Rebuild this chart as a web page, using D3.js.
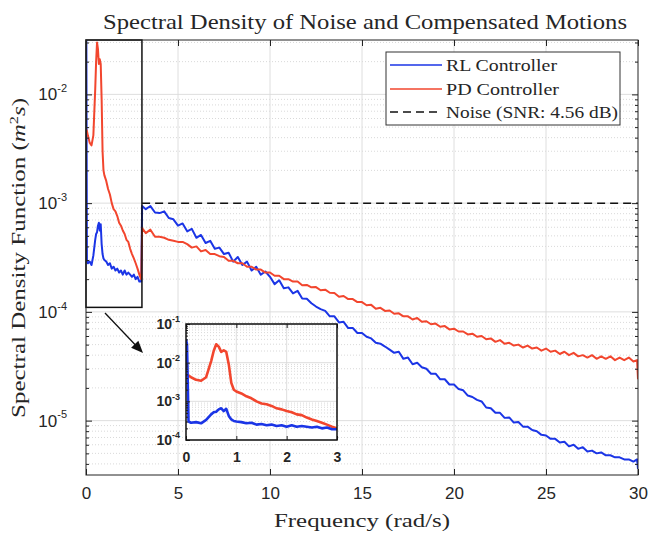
<!DOCTYPE html>
<html lang="en">
<head>
<meta charset="UTF-8">
<title>Spectral Density</title>
<script src="https://cdn.jsdelivr.net/npm/d3@7"></script>
<style>
    body { margin: 0; background: #fff; }
    svg text { font-family: "Liberation Serif", "Times New Roman", serif; fill: #262626; }
    .ax text { font-family: "Liberation Sans", Arial, sans-serif; }
</style>
</head>
<body>
<svg id="chart" width="652" height="535"></svg>
<script>
    // ---- data ----
    var freqLow = [0, 0.02, 0.05, 0.1, 0.2, 0.3, 0.4, 0.5, 0.55, 0.6, 0.65, 0.7, 0.75, 0.8, 0.85, 0.9, 0.95, 1.0,
        1.1, 1.2, 1.3, 1.4, 1.5, 1.6, 1.7, 1.8, 1.9, 2.0, 2.1, 2.2, 2.3, 2.4, 2.5, 2.6, 2.7, 2.8, 2.9, 3.0];
    var rlLow = [4.0e-2, 3.0e-2, 3.0e-4, 2.8e-4, 2.9e-4, 2.7e-4, 3.3e-4, 4.6e-4, 5.2e-4, 5.4e-4, 6.2e-4, 6.6e-4, 5.6e-4,
        6.4e-4, 4.2e-4, 3.4e-4, 3.1e-4, 3.0e-4, 2.9e-4, 2.7e-4, 2.8e-4, 2.5e-4, 2.6e-4, 2.4e-4, 2.5e-4, 2.3e-4,
        2.4e-4, 2.2e-4, 2.4e-4, 2.2e-4, 2.3e-4, 2.2e-4, 2.1e-4, 2.2e-4, 2.0e-4, 2.1e-4, 1.9e-4, 1.9e-4];
    var pdLow = [4.8e-3, 4.7e-3, 4.6e-3, 4.2e-3, 3.6e-3, 3.4e-3, 4.2e-3, 1.1e-2, 2.0e-2, 3.0e-2, 2.6e-2, 1.9e-2, 2.1e-2,
        1.9e-2, 9.0e-3, 3.0e-3, 2.0e-3, 1.8e-3, 1.6e-3, 1.35e-3, 1.2e-3, 1.0e-3, 8.8e-4, 8.4e-4, 7.6e-4, 6.6e-4,
        6.2e-4, 5.6e-4, 5.2e-4, 4.6e-4, 4.4e-4, 3.8e-4, 3.4e-4, 3.1e-4, 2.8e-4, 2.5e-4, 2.2e-4, 2.0e-4];

    var freqHigh = [3.05, 3.25, 3.5, 3.75, 4, 4.25, 4.5, 4.75, 5, 5.25, 5.5, 5.75, 6, 6.25, 6.5, 6.75,
        7, 7.25, 7.5, 7.75, 8, 8.25, 8.5, 8.75, 9, 9.25, 9.5, 9.75, 10, 10.25, 10.5, 10.75,
        11, 11.25, 11.5, 11.75, 12, 12.25, 12.5, 12.75, 13, 13.25, 13.5, 13.75, 14, 14.25, 14.5, 14.75,
        15, 15.25, 15.5, 15.75, 16, 16.25, 16.5, 16.75, 17, 17.25, 17.5, 17.75, 18, 18.25, 18.5, 18.75,
        19, 19.25, 19.5, 19.75, 20, 20.25, 20.5, 20.75, 21, 21.25, 21.5, 21.75, 22, 22.25, 22.5, 22.75,
        23, 23.25, 23.5, 23.75, 24, 24.25, 24.5, 24.75, 25, 25.25, 25.5, 25.75, 26, 26.25, 26.5, 26.75,
        27, 27.25, 27.5, 27.75, 28, 28.25, 28.5, 28.75, 29, 29.25, 29.5, 29.75, 29.95, 30];
    var rlHigh = [9.4e-4, 8.8e-4, 9.4e-4, 8.2e-4,
        8.1e-4, 8.4e-4, 7.3e-4, 7.1e-4,
        6.2e-4, 6.5e-4, 5.5e-4, 5.8e-4,
        4.8e-4, 5.1e-4, 4.3e-4, 4.5e-4,
        3.8e-4, 3.9e-4, 3.4e-4, 3.5e-4,
        2.9e-4, 3.2e-4, 2.7e-4, 2.9e-4,
        2.4e-4, 2.6e-4, 2.2e-4, 2.35e-4,
        2.1e-4, 1.8e-4, 1.95e-4, 1.65e-4,
        1.68e-4, 1.48e-4, 1.56e-4, 1.33e-4,
        1.32e-4, 1.2e-4, 1.12e-4, 1.06e-4,
        1.02e-4, 9.1e-5, 9.1e-5, 8.0e-5,
        8.1e-5, 7.1e-5, 7.1e-5, 6.4e-5,
        6.4e-5, 5.9e-5, 5.7e-5, 5.2e-5,
        5.1e-5, 4.8e-5, 4.5e-5, 4.2e-5,
        4.3e-5, 3.7e-5, 3.8e-5, 3.3e-5,
        3.4e-5, 3.1e-5, 3.0e-5, 2.7e-5,
        2.7e-5, 2.4e-5, 2.4e-5, 2.15e-5,
        2.15e-5, 1.95e-5, 1.9e-5, 1.7e-5,
        1.65e-5, 1.55e-5, 1.5e-5, 1.32e-5,
        1.3e-5, 1.18e-5, 1.18e-5, 1.06e-5,
        1.07e-5, 9.6e-6, 9.7e-6, 8.8e-6,
        8.8e-6, 8.2e-6, 8.0e-6, 7.4e-6,
        7.3e-6, 6.8e-6, 6.8e-6, 6.3e-6,
        6.4e-6, 5.8e-6, 6.0e-6, 5.5e-6,
        5.7e-6, 5.2e-6, 5.3e-6, 5.0e-6,
        5.1e-6, 4.8e-6, 4.8e-6, 4.6e-6,
        4.6e-6, 4.4e-6, 4.4e-6, 4.2e-6,
        4.4e-6, 3.6e-6];
    var pdHigh = [5.9e-4, 5.3e-4, 5.7e-4, 4.9e-4,
        4.9e-4, 4.8e-4, 4.6e-4, 4.5e-4,
        4.4e-4, 4.4e-4, 4.2e-4, 3.9e-4,
        4.0e-4, 3.6e-4, 3.7e-4, 3.4e-4,
        3.4e-4, 3.25e-4, 3.2e-4, 2.95e-4,
        2.95e-4, 2.8e-4, 2.8e-4, 2.6e-4,
        2.6e-4, 2.45e-4, 2.45e-4, 2.3e-4,
        2.3e-4, 2.15e-4, 2.15e-4, 2.0e-4,
        2.0e-4, 1.9e-4, 1.9e-4, 1.76e-4,
        1.77e-4, 1.68e-4, 1.69e-4, 1.58e-4,
        1.6e-4, 1.5e-4, 1.49e-4, 1.38e-4,
        1.4e-4, 1.31e-4, 1.31e-4, 1.23e-4,
        1.23e-4, 1.15e-4, 1.16e-4, 1.07e-4,
        1.09e-4, 1.02e-4, 1.03e-4, 9.6e-5,
        9.7e-5, 9.1e-5, 9.1e-5, 8.5e-5,
        8.8e-5, 8.1e-5, 8.2e-5, 7.7e-5,
        7.8e-5, 7.3e-5, 7.4e-5, 6.9e-5,
        7.0e-5, 6.6e-5, 6.6e-5, 6.2e-5,
        6.3e-5, 5.9e-5, 6.0e-5, 5.6e-5,
        5.7e-5, 5.3e-5, 5.5e-5, 5.1e-5,
        5.2e-5, 4.9e-5, 5.0e-5, 4.7e-5,
        4.9e-5, 4.6e-5, 4.7e-5, 4.4e-5,
        4.6e-5, 4.3e-5, 4.4e-5, 4.1e-5,
        4.3e-5, 4.0e-5, 4.2e-5, 3.9e-5,
        4.0e-5, 3.8e-5, 4.0e-5, 3.7e-5,
        3.9e-5, 3.7e-5, 3.9e-5, 3.6e-5,
        3.8e-5, 3.6e-5, 3.8e-5, 3.5e-5,
        3.6e-5, 2.4e-5];

    var noiseLevel = 1e-3;
    var noiseFreq = [3.05, 30];
    var xTicks = [0, 5, 10, 15, 20, 25, 30];
    var yDecades = [1e-5, 1e-4, 1e-3, 1e-2];
    var insetXTicks = [0, 1, 2, 3];
    var insetYDecades = [1e-4, 1e-3, 1e-2, 1e-1];
    var seriesNames = ["RL Controller", "PD Controller", "Noise (SNR: 4.56 dB)"];
    var colors = ["#1b35e6", "#f2462e", "#111"];

    // ---- layout ----
    var svg = d3.select("#chart");
    var m = { left: 86, right: 638, top: 40, bottom: 475 };
    var x = d3.scaleLinear().domain([0, 30]).range([m.left, m.right]);
    var y = d3.scaleLog().domain([Math.pow(10, -5.5), Math.pow(10, -1.5)]).range([m.bottom, m.top]);

    var ins = { left: 186, right: 337, top: 324, bottom: 440 };
    var xi = d3.scaleLinear().domain([0, 3]).range([ins.left, ins.right]);
    var yi = d3.scaleLog().domain([1e-4, 1e-1]).range([ins.bottom, ins.top]);

    function toPoints(fs, vs) {
        return fs.map(function(f, i) { return { f: f, v: vs[i] }; });
    }
    var rl = toPoints(freqLow, rlLow).concat(toPoints(freqHigh, rlHigh));
    var pd = toPoints(freqLow, pdLow).concat(toPoints(freqHigh, pdHigh));
    var rlIn = toPoints(freqLow, rlLow);
    var pdIn = toPoints(freqLow, pdLow);

    // minor ticks 2..9 x 10^e inside a log domain
    function minorTicks(lo, hi) {
        var out = [];
        for (var e = Math.floor(Math.log10(lo)); e <= Math.ceil(Math.log10(hi)); e++) {
            for (var k = 2; k <= 9; k++) {
                var v = k * Math.pow(10, e);
                if (v > lo && v < hi) out.push(v);
            }
        }
        return out;
    }
    var yMinor = minorTicks(y.domain()[0], y.domain()[1]);
    var yiMinor = minorTicks(1e-4, 1e-1);

    var defs = svg.append("defs");
    defs.append("clipPath").attr("id", "clipMain").append("rect")
        .attr("x", m.left).attr("y", m.top).attr("width", m.right - m.left).attr("height", m.bottom - m.top);
    defs.append("clipPath").attr("id", "clipIn").append("rect")
        .attr("x", ins.left).attr("y", ins.top).attr("width", ins.right - ins.left).attr("height", ins.bottom - ins.top);

    function drawGrid(g, xs, ys, xMaj, yMaj, yMin) {
        var r = [xs.range()[0], xs.range()[1]], ry = ys.range();
        g.selectAll(".ymin").data(yMin).enter().append("line")
            .attr("x1", r[0]).attr("x2", r[1])
            .attr("y1", function(d) { return ys(d); }).attr("y2", function(d) { return ys(d); })
            .attr("stroke", "#cfcfcf").attr("stroke-width", 0.8).attr("stroke-dasharray", "1,2");
        g.selectAll(".ymaj").data(yMaj).enter().append("line")
            .attr("x1", r[0]).attr("x2", r[1])
            .attr("y1", function(d) { return ys(d); }).attr("y2", function(d) { return ys(d); })
            .attr("stroke", "#dadada").attr("stroke-width", 0.9);
        g.selectAll(".xmaj").data(xMaj).enter().append("line")
            .attr("y1", ry[0]).attr("y2", ry[1])
            .attr("x1", function(d) { return xs(d); }).attr("x2", function(d) { return xs(d); })
            .attr("stroke", "#dadada").attr("stroke-width", 0.9);
    }

    drawGrid(svg.append("g"), x, y, xTicks.slice(1, -1), yDecades, yMinor);

    var line = d3.line().x(function(d) { return x(d.f); }).y(function(d) { return y(d.v); });
    var plot = svg.append("g").attr("clip-path", "url(#clipMain)");
    plot.append("path").datum(rl).attr("d", line).attr("fill", "none")
        .attr("stroke", colors[0]).attr("stroke-width", 2).attr("stroke-linejoin", "round");
    plot.append("path").datum(pd).attr("d", line).attr("fill", "none")
        .attr("stroke", colors[1]).attr("stroke-width", 2).attr("stroke-linejoin", "round");
    plot.append("line")
        .attr("x1", x(noiseFreq[0])).attr("x2", x(noiseFreq[1]))
        .attr("y1", y(noiseLevel)).attr("y2", y(noiseLevel))
        .attr("stroke", colors[2]).attr("stroke-width", 1.5).attr("stroke-dasharray", "8,5");

    // zoom box around 0-3 rad/s
    svg.append("rect")
        .attr("x", x(0)).attr("y", m.top)
        .attr("width", x(3.04) - x(0)).attr("height", y(1.1e-4) - m.top)
        .attr("fill", "none").attr("stroke", "#111").attr("stroke-width", 1.5);

    // superscript tick labels
    function powLabels(g, supSize) {
        g.selectAll(".tick text").each(function(d) {
            var t = d3.select(this);
            t.text("");
            t.append("tspan").text("10");
            t.append("tspan").attr("font-size", supSize).attr("dy", "-0.75em")
                .text(String(Math.round(Math.log10(d))));
        });
    }
    function styleAxis(g) {
        g.select(".domain").remove();
        g.selectAll(".tick line").attr("stroke", "#222");
    }

    // main axes
    var axL = svg.append("g").attr("class", "ax").attr("transform", "translate(" + m.left + ",0)")
        .call(d3.axisLeft(y).tickValues(yDecades).tickSize(-6).tickPadding(19));
    axL.attr("font-size", 17); powLabels(axL, 11); styleAxis(axL);
    svg.append("g").attr("class", "ax").attr("transform", "translate(" + m.left + ",0)")
        .call(d3.axisLeft(y).tickValues(yMinor).tickSize(-3).tickFormat("")).call(styleAxis);
    svg.append("g").attr("class", "ax").attr("transform", "translate(" + m.right + ",0)")
        .call(d3.axisRight(y).tickValues(yDecades).tickSize(-6).tickFormat("")).call(styleAxis);
    svg.append("g").attr("class", "ax").attr("transform", "translate(" + m.right + ",0)")
        .call(d3.axisRight(y).tickValues(yMinor).tickSize(-3).tickFormat("")).call(styleAxis);
    var axB = svg.append("g").attr("class", "ax").attr("transform", "translate(0," + m.bottom + ")")
        .call(d3.axisBottom(x).tickValues(xTicks).tickSize(-6).tickPadding(12));
    axB.attr("font-size", 17); styleAxis(axB);
    svg.append("g").attr("class", "ax").attr("transform", "translate(0," + m.top + ")")
        .call(d3.axisTop(x).tickValues(xTicks).tickSize(-6).tickFormat("")).call(styleAxis);
    svg.append("rect").attr("x", m.left).attr("y", m.top)
        .attr("width", m.right - m.left).attr("height", m.bottom - m.top)
        .attr("fill", "none").attr("stroke", "#222").attr("stroke-width", 1);

    // ---- inset ----
    var inset = svg.append("g");
    inset.append("rect").attr("x", ins.left).attr("y", ins.top)
        .attr("width", ins.right - ins.left).attr("height", ins.bottom - ins.top).attr("fill", "#fff");
    drawGrid(inset.append("g"), xi, yi, [1, 2], insetYDecades, yiMinor);
    var lineIn = d3.line().x(function(d) { return xi(d.f); }).y(function(d) { return yi(d.v); });
    var inPlot = inset.append("g").attr("clip-path", "url(#clipIn)");
    inPlot.append("path").datum(pdIn).attr("d", lineIn).attr("fill", "none")
        .attr("stroke", colors[1]).attr("stroke-width", 2.6).attr("stroke-linejoin", "round");
    inPlot.append("path").datum(rlIn).attr("d", lineIn).attr("fill", "none")
        .attr("stroke", colors[0]).attr("stroke-width", 2.6).attr("stroke-linejoin", "round");

    var iL = inset.append("g").attr("class", "ax").attr("transform", "translate(" + ins.left + ",0)")
        .call(d3.axisLeft(yi).tickValues(insetYDecades).tickSize(-4).tickPadding(6));
    iL.attr("font-size", 14).attr("font-weight", "bold"); powLabels(iL, 9); styleAxis(iL);
    inset.append("g").attr("class", "ax").attr("transform", "translate(" + ins.left + ",0)")
        .call(d3.axisLeft(yi).tickValues(yiMinor).tickSize(-2).tickFormat("")).call(styleAxis);
    var iB = inset.append("g").attr("class", "ax").attr("transform", "translate(0," + ins.bottom + ")")
        .call(d3.axisBottom(xi).tickValues(insetXTicks).tickFormat(d3.format("d")).tickSize(-4).tickPadding(12));
    iB.attr("font-size", 14).attr("font-weight", "bold"); styleAxis(iB);
    inset.append("g").attr("class", "ax").attr("transform", "translate(0," + ins.top + ")")
        .call(d3.axisTop(xi).tickValues(insetXTicks).tickSize(-4).tickFormat("")).call(styleAxis);
    inset.append("rect").attr("x", ins.left).attr("y", ins.top)
        .attr("width", ins.right - ins.left).attr("height", ins.bottom - ins.top)
        .attr("fill", "none").attr("stroke", "#111").attr("stroke-width", 1.5);

    // arrow from zoom box to inset
    var a0 = [105, 313], a1 = [143, 353];
    var ang = Math.atan2(a1[1] - a0[1], a1[0] - a0[0]);
    var hl = 12, hw = 5;
    svg.append("line").attr("x1", a0[0]).attr("y1", a0[1])
        .attr("x2", a1[0] - Math.cos(ang) * hl * 0.8).attr("y2", a1[1] - Math.sin(ang) * hl * 0.8)
        .attr("stroke", "#111").attr("stroke-width", 1.3);
    var bx = a1[0] - Math.cos(ang) * hl, by = a1[1] - Math.sin(ang) * hl;
    svg.append("polygon").attr("fill", "#111").attr("points", [
        [a1[0], a1[1]],
        [bx + Math.sin(ang) * hw, by - Math.cos(ang) * hw],
        [bx - Math.sin(ang) * hw, by + Math.cos(ang) * hw]
    ].map(function(p) { return p.join(","); }).join(" "));

    // ---- legend ----
    var lg = svg.append("g");
    lg.append("rect").attr("x", 386).attr("y", 52).attr("width", 234).attr("height", 73)
        .attr("fill", "#fff").attr("stroke", "#333").attr("stroke-width", 1);
    var rowsY = [65, 89, 112], textLens = [111, 113, 172];
    seriesNames.forEach(function(name, i) {
        lg.append("line").attr("x1", 390).attr("x2", 442).attr("y1", rowsY[i]).attr("y2", rowsY[i])
            .attr("stroke", colors[i]).attr("stroke-width", 1.5)
            .attr("stroke-dasharray", i === 2 ? "8,5" : null);
        lg.append("text").attr("x", 446).attr("y", rowsY[i] + 5.5)
            .attr("font-size", 16.5).attr("textLength", textLens[i]).attr("lengthAdjust", "spacingAndGlyphs")
            .text(name);
    });

    // ---- titles ----
    svg.append("text").attr("x", 365).attr("y", 29).attr("text-anchor", "middle")
        .attr("font-size", 21).attr("textLength", 524).attr("lengthAdjust", "spacingAndGlyphs")
        .text("Spectral Density of Noise and Compensated Motions");
    svg.append("text").attr("x", 362).attr("y", 527).attr("text-anchor", "middle")
        .attr("font-size", 18.5).attr("textLength", 176).attr("lengthAdjust", "spacingAndGlyphs")
        .text("Frequency (rad/s)");
    var yl = svg.append("text").attr("transform", "translate(25,258) rotate(-90)")
        .attr("text-anchor", "middle").attr("font-size", 18.5)
        .attr("textLength", 320).attr("lengthAdjust", "spacingAndGlyphs");
    yl.append("tspan").text("Spectral Density Function (");
    yl.append("tspan").attr("font-style", "italic").text("m");
    yl.append("tspan").attr("font-size", 12).attr("dy", -7).text("2");
    yl.append("tspan").attr("font-style", "italic").attr("dy", 7).text("s");
    yl.append("tspan").text(")");
</script>
</body>
</html>
